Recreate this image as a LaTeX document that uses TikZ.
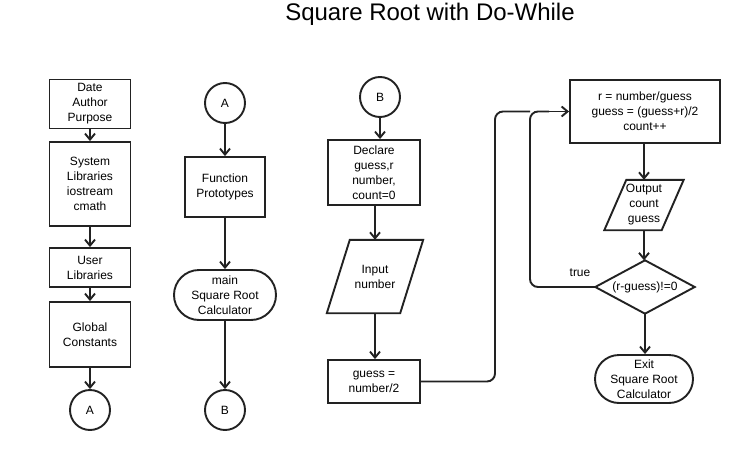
\documentclass[tikz,border=0pt]{standalone}
\usepackage{fontspec}
\setmainfont{Liberation Sans}
\usetikzlibrary{arrows.meta,calc}
\definecolor{linec}{HTML}{222222}
\tikzset{
  txt/.style={font=\fontsize{12}{15}\selectfont, align=center, inner sep=0pt, text=black},
  procbox/.style={txt, draw=linec, line width=1.9pt, fill=white},
  termbox/.style={procbox, rounded corners=#1},
  connector/.style={txt, draw=linec, line width=1.9pt, circle, minimum size=40pt, fill=white},
  ghost/.style={txt, draw=none},
  shapeline/.style={draw=linec, line width=1.9pt, line join=miter},
  flow/.style={draw=linec, line width=1.9pt, -{Straight Barb[length=6pt,width=10pt]}},
  flowline/.style={draw=linec, line width=1.9pt, rounded corners=8pt},
}
\begin{document}
\begin{tikzpicture}[x=1pt,y=-1pt]
\useasboundingbox[fill=white] (0,0) rectangle (745,450);

\node[font=\fontsize{24}{28}\selectfont, anchor=base, inner sep=0pt] (title) at (430,20) {Square Root with Do-While};

% column 1
\node[procbox, minimum width=81pt, minimum height=49pt] (date) at (90,104) {Date\\Author\\Purpose};
\node[procbox, minimum width=81pt, minimum height=84pt] (sys) at (90,184) {System\\Libraries\\iostream\\cmath};
\node[procbox, minimum width=81pt, minimum height=39pt] (user) at (90,267.5) {User\\Libraries};
\node[procbox, minimum width=81pt, minimum height=65pt] (glob) at (90,334.5) {Global\\Constants};
\node[connector] (A1) at (90,410) {A};

% column 2
\node[connector] (A2) at (225,103) {A};
\node[procbox, minimum width=80pt, minimum height=60pt] (func) at (225,187) {Function\\Prototypes};
\node[termbox=25pt, minimum width=102pt, minimum height=50pt] (main) at (225,295) {main\\Square Root\\Calculator};
\node[connector] (B2) at (225,410) {B};

% column 3
\node[connector] (B3) at (380,97) {B};
\node[procbox, minimum width=92pt, minimum height=65pt] (decl) at (374,172.5) {Declare\\guess,r\\number,\\count=0};
\node[ghost, minimum width=73pt, minimum height=73pt] (inp) at (375,276.5) {Input\\number};
\draw[shapeline] ($(inp.north west)+(11.5,0)$) -- ($(inp.north east)+(11.5,0)$) -- ($(inp.south east)+(-11.5,0)$) -- ($(inp.south west)+(-11.5,0)$) -- cycle;
\node[procbox, minimum width=92pt, minimum height=43pt] (guess) at (374,381.5) {guess =\\number/2};

% column 4
\node[procbox, minimum width=150pt, minimum height=63pt] (rbox) at (645,111.5) {r = number/guess\\guess = (guess+r)/2\\count++};
\node[ghost, minimum width=57pt, minimum height=50pt] (outp) at (644,205) {Output\\count\\guess};
\draw[shapeline] ($(outp.north west)+(11,0)$) -- ($(outp.north east)+(11,0)$) -- ($(outp.south east)+(-11,0)$) -- ($(outp.south west)+(-11,0)$) -- cycle;
\node[ghost, minimum width=99pt, minimum height=53pt] (dec) at (645,287) {(r-guess)!=0};
\draw[shapeline] (dec.north) -- (dec.east) -- (dec.south) -- (dec.west) -- cycle;
\node[termbox=24pt, minimum width=98pt, minimum height=48pt] (exit) at (644,379) {Exit\\Square Root\\Calculator};

\node[txt] (truelbl) at (580,273) {true};

\coordinate (j1) at (495,0);
\coordinate (j2) at (530,0);

% connectors
\draw[flow] (date) -- (sys);
\draw[flow] (sys) -- (user);
\draw[flow] (user) -- (glob);
\draw[flow] (glob) -- (A1);

\draw[flow] (A2) -- (func);
\draw[flow] (func) -- (main);
\draw[flow] (main) -- (B2);

\draw[flow] (B3) -- (B3 |- decl.north);
\draw[flow] (decl.south -| inp) -- (inp.north);
\draw[flow] (inp.south) -- (inp.south |- guess.north);

\draw[flowline] (guess.east) -- (guess.east -| j1) -- (j1 |- rbox.west) -- (j2 |- rbox.west);
\draw[flowline] (dec.west) -- (dec.west -| j2) -- (j2 |- rbox.west) -- ($(rbox.west)+(-20,0)$);
\draw[flow] ($(rbox.west)+(-22,0)$) -- (rbox.west);

\draw[flow] (rbox.south -| outp) -- (outp.north);
\draw[flow] (outp.south) -- (outp.south |- dec.north);
\draw[flow] (dec.south) -- (dec.south |- exit.north);
\end{tikzpicture}
\end{document}
